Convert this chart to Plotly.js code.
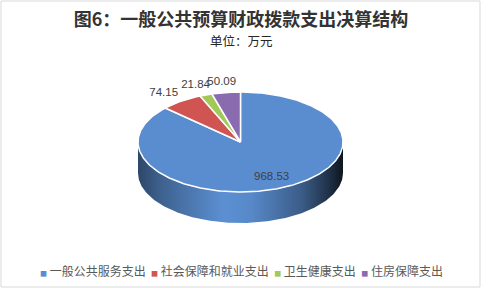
<!DOCTYPE html>
<html><head><meta charset="utf-8">
<script src="https://cdn.plot.ly/plotly-3.0.1.min.js"></script>
<style>html,body{margin:0;padding:0;background:#fff}#chart{width:482px;height:290px}</style>
</head><body><div id="chart"></div>
<script>
// ---- data ----
const categories = ['一般公共服务支出', '社会保障和就业支出', '卫生健康支出', '住房保障支出'];
const values = [968.53, 74.15, 21.84, 50.09];
const valueLabels = ['968.53', '74.15', '21.84', '50.09'];
const colors = ['#5A8DCF', '#D05451', '#A2C857', '#8A6BB0'];
const chartTitle = '图6：一般公共预算财政拨款支出决算结构';
const chartSubtitle = '单位：万元';

// ---- geometry (layout) ----
const W = 482, H = 290;
const CX = 240.5, CY = 142, RX = 102.5, RY = 50, DEPTH = 31;

function hexToRgb(h){h=h.replace('#','');return [0,2,4].map(i=>parseInt(h.substr(i,2),16));}
function shade(h,f){const c=hexToRgb(h).map(v=>Math.round(Math.min(255,v*f)));return `rgb(${c[0]},${c[1]},${c[2]})`;}
function pt(deg,dy){const r=deg*Math.PI/180;return [CX+RX*Math.sin(r), CY-RY*Math.cos(r)+(dy||0)];}

const total = values.reduce((a,b)=>a+b,0);
const traces = [];
let acc = 0;
const slices = values.map(v=>{const s=acc/total*360; acc+=v; const e=acc/total*360; return [s,e];});

// side walls (front half visible: 90..270 deg)
slices.forEach(([s,e],i)=>{
  const a=Math.max(s,90), b=Math.min(e,270);
  if (b<=a) return;
  const xs=[],ys=[];
  for(let d=a; d<=b; d+=1){const p=pt(d);xs.push(p[0]);ys.push(p[1]);}
  let p=pt(b);xs.push(p[0]);ys.push(p[1]);
  for(let d=b; d>=a; d-=1){const q=pt(d,DEPTH);xs.push(q[0]);ys.push(q[1]);}
  p=pt(a,DEPTH);xs.push(p[0]);ys.push(p[1]);
  traces.push({type:'scatter',mode:'lines',x:xs,y:ys,fill:'toself',
    line:{width:0,color:'rgba(0,0,0,0)'},hoverinfo:'skip',showlegend:false,
    fillgradient:{type:'horizontal',start:CX-RX,stop:CX+RX,
      colorscale:[[0,shade(colors[i],0.5)],[0.12,shade(colors[i],0.7)],[0.42,shade(colors[i],1.02)],
                  [0.55,shade(colors[i],0.97)],[0.8,shade(colors[i],0.65)],[0.93,shade(colors[i],0.35)],[1,shade(colors[i],0.15)]]}
  });
});

// top faces
slices.forEach(([s,e],i)=>{
  const xs=[CX],ys=[CY];
  for(let d=s; d<e; d+=1){const p=pt(d);xs.push(p[0]);ys.push(p[1]);}
  const p=pt(e);xs.push(p[0]);ys.push(p[1]);
  xs.push(CX);ys.push(CY);
  traces.push({type:'scatter',mode:'lines',x:xs,y:ys,fill:'toself',fillcolor:colors[i],
    line:{width:1.5,color:'#ffffff'},hoverinfo:'skip',showlegend:false});
});

// data labels
const lx=[],ly=[];
slices.forEach(([s,e],i)=>{
  const m=(s+e)/2*Math.PI/180, frac=values[i]/total;
  if (frac>0.2){ lx.push(CX+RX*Math.sin(m)*0.76); ly.push(CY-RY*Math.cos(m)*0.76); }
  else { lx.push(CX+RX*Math.sin(m)*1.3); ly.push(CY-RY*Math.cos(m)*1.2); }
});
traces.push({type:'scatter',mode:'text',x:lx,y:ly,text:valueLabels,textposition:'middle center',
  textfont:{family:'Liberation Sans, Arial, sans-serif',size:11.5,color:'#404040'},hoverinfo:'skip',showlegend:false});

// legend as annotation
const legendText = categories.map((c,i)=>`<span style="color:${colors[i]};font-size:7px">■</span> ${c}`).join('  ');

const layout = {
  width:W,height:H,margin:{l:0,r:0,t:0,b:0},paper_bgcolor:'#ffffff',plot_bgcolor:'#ffffff',
  showlegend:false,
  title:{text:chartTitle,x:0.5,xanchor:'center',y:1-20/H,yanchor:'middle',
    font:{family:'Noto Sans CJK SC, sans-serif',size:18,color:'#333333',weight:'bold'}},
  xaxis:{range:[0,W],visible:false,fixedrange:true},
  yaxis:{range:[H,0],visible:false,fixedrange:true},
  annotations:[
    {xref:'paper',yref:'paper',x:0.5,y:1-41/H,xanchor:'center',yanchor:'middle',showarrow:false,
     text:chartSubtitle,font:{family:'Noto Sans CJK SC, sans-serif',size:12.5,color:'#262626'}},
    {xref:'paper',yref:'paper',x:0.5,y:1-270/H,xanchor:'center',yanchor:'middle',showarrow:false,
     text:legendText,font:{family:'Noto Sans CJK SC, sans-serif',size:12,color:'#595959'}}
  ],
  shapes:[{type:'rect',xref:'x',yref:'y',x0:1,x1:480,y0:1,y1:287,line:{color:'#d9d9d9',width:1},layer:'below'}]
};
Plotly.newPlot('chart',traces,layout,{staticPlot:true,displayModeBar:false});
</script></body></html>
